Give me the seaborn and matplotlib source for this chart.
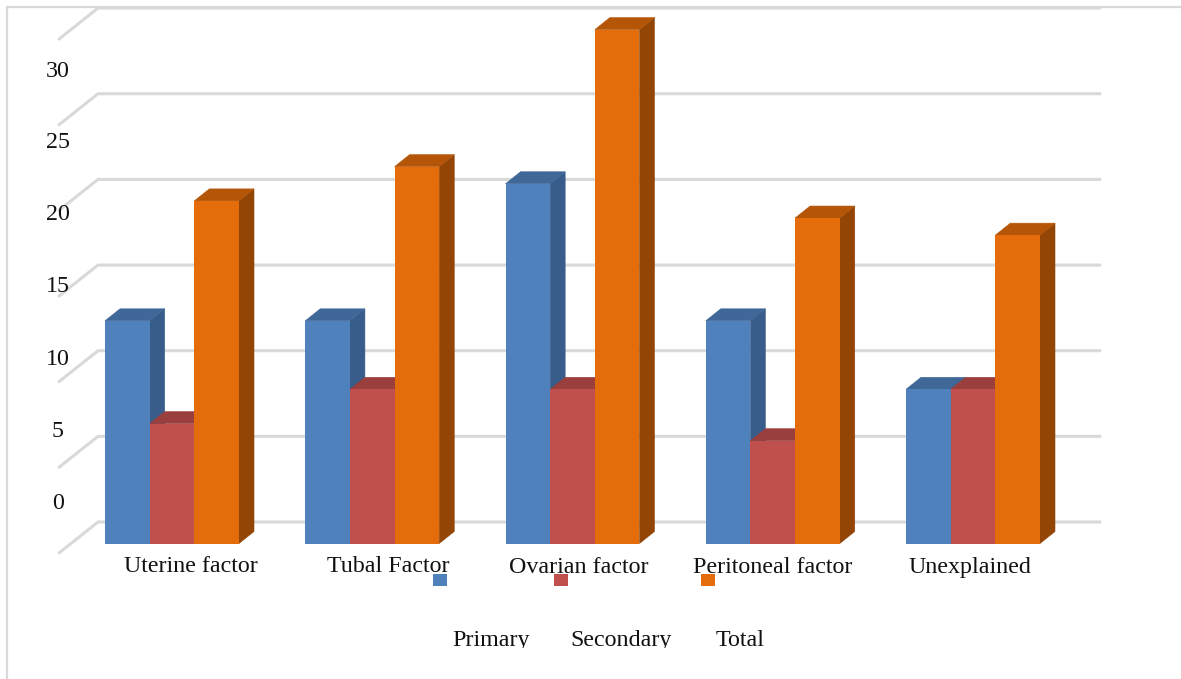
import pandas as pd
import matplotlib
matplotlib.use('Agg')
import matplotlib.pyplot as plt
from matplotlib.patches import Polygon, Rectangle
from matplotlib.transforms import Bbox
import seaborn as sns

categories = ['Uterine factor', 'Tubal Factor', 'Ovarian factor', 'Peritoneal factor', 'Unexplained']
primary = [13, 13, 21, 13, 9]
secondary = [7, 9, 9, 6, 9]
total = [20, 22, 30, 19, 18]
y_ticks = [0, 5, 10, 15, 20, 25, 30]
series_names = ['Primary', 'Secondary', 'Total']
front_colors = ['#4f81bd', '#c0504d', '#e46c0a']
top_colors = ['#3f6797', '#9a3f3d', '#b45508']
side_colors = ['#385d8a', '#8c3836', '#934505']

W, H = 1181, 679
PX_PER_CAT = 200.25
PX_PER_UNIT = 17.13
ORIGIN_X, ORIGIN_Y = 172, 543.5

sns.set_theme(style='white')
plt.rcParams['font.family'] = ['Liberation Serif', 'DejaVu Serif']

df = pd.DataFrame({
    'category': categories * 3,
    'series': sum([[s] * len(categories) for s in series_names], []),
    'value': primary + secondary + total,
})

fig = plt.figure(figsize=(W / 100, H / 100), dpi=100, facecolor='white')
ax = fig.add_axes([0, 0, 1, 1])
sns.barplot(data=df, x='category', y='value', hue='series', hue_order=series_names,
            palette=front_colors, saturation=1, width=134 / PX_PER_CAT, gap=0,
            legend=False, ax=ax, linewidth=0)
ax.set_xlim(-ORIGIN_X / PX_PER_CAT, (W - ORIGIN_X) / PX_PER_CAT)
ax.set_ylim(-(H - ORIGIN_Y) / PX_PER_UNIT, ORIGIN_Y / PX_PER_UNIT)
ax.axis('off')


def fig_xy(x, y):
    # reference pixels to figure fraction
    return x / W, 1 - y / H


# fake 3d depth for the bars
dx = 15 / PX_PER_CAT
dy = 12 / PX_PER_UNIT
for i, container in enumerate(ax.containers):
    for bar in container:
        x0, w, h = bar.get_x(), bar.get_width(), bar.get_height()
        bar.set_zorder(4 + 2 * i)
        top = [(x0, h), (x0 + w, h), (x0 + w + dx, h + dy), (x0 + dx, h + dy)]
        side = [(x0 + w, 0), (x0 + w + dx, dy), (x0 + w + dx, h + dy), (x0 + w, h)]
        ax.add_patch(Polygon(side, closed=True, fc=side_colors[i], ec=side_colors[i], lw=0.4, zorder=3 + 2 * i))
        ax.add_patch(Polygon(top, closed=True, fc=top_colors[i], ec=top_colors[i], lw=0.4, zorder=3 + 2 * i))

# back wall grid with the slanted stubs on the left
grid_color = '#d9d9d9'
wall_x0 = (98 - ORIGIN_X) / PX_PER_CAT
wall_x1 = (1100 - ORIGIN_X) / PX_PER_CAT
stub_x = (59 - ORIGIN_X) / PX_PER_CAT
wall_dy = 21.5 / PX_PER_UNIT
stub_dy = -9.5 / PX_PER_UNIT
for t in y_ticks:
    ax.plot([stub_x, wall_x0, wall_x1], [t + stub_dy, t + wall_dy, t + wall_dy],
            color=grid_color, lw=2.2, solid_joinstyle='miter', zorder=1)

# outer chart frame, open at the right and bottom
fig.add_artist(plt.Line2D([7 / W, 7 / W], [0, 1 - 7 / H], color=grid_color, lw=1.6))
fig.add_artist(plt.Line2D([7 / W, 1], [1 - 7 / H, 1 - 7 / H], color=grid_color, lw=1.6))

# tick labels sit away from the grid in the original
font_size = 17.3
tick_x = 58
tick_base = [509, 437, 365, 292, 220, 148, 77]
for t, yp in zip(y_ticks, tick_base):
    x, y = fig_xy(tick_x, yp)
    fig.text(x, y, str(t), ha='center', va='baseline', fontsize=font_size, color='#111111')

cat_pos = [191, 388, 579, 772.5, 970]
cat_base = [572, 572, 573, 573, 573]
for name, xp, yp in zip(categories, cat_pos, cat_base):
    x, y = fig_xy(xp, yp)
    fig.text(x, y, name, ha='center', va='baseline', fontsize=font_size, color='#111111')

# legend: swatches and labels are far apart, and the labels get cut at the bottom
swatch_x = [433, 554, 701]
label_x = [491.5, 621.5, 740]
clip = Bbox([[0, H - 648], [W, H]])
for name, color, sx, lx in zip(series_names, front_colors, swatch_x, label_x):
    x, y = fig_xy(sx, 586)
    fig.add_artist(Rectangle((x, y), 14 / W, 12 / H, transform=fig.transFigure, fc=color, ec='none', zorder=6))
    x, y = fig_xy(lx, 646)
    label = fig.text(x, y, name, ha='center', va='baseline', fontsize=font_size, color='#111111')
    label.set_clip_box(clip)
    label.set_clip_on(True)

fig.savefig('out.png', dpi=100, facecolor='white')
